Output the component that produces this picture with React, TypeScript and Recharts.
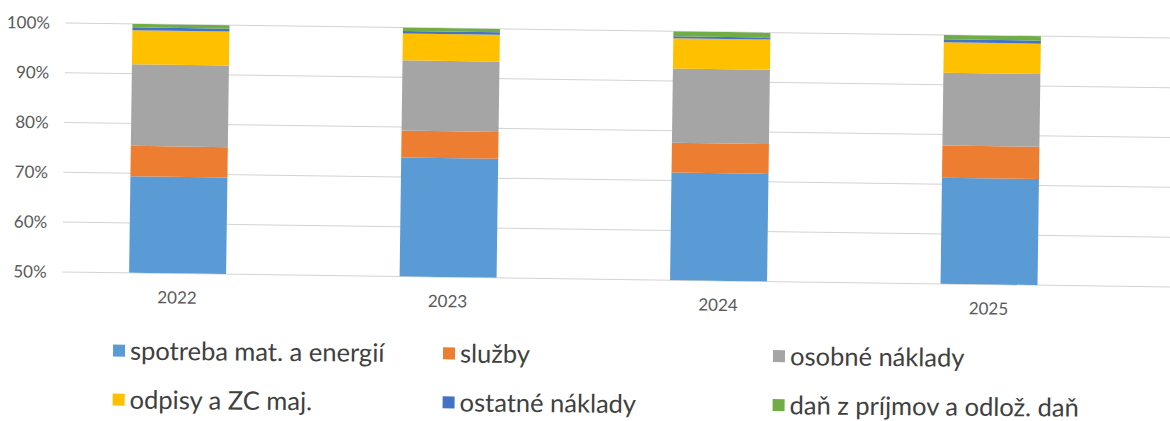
import React from 'react';
import { BarChart, Bar, XAxis, YAxis, CartesianGrid } from 'recharts';

const categories = ['2022', '2023', '2024', '2025'];

const spotreba = [69.4, 73.9, 71.6, 71.3];
const sluzby = [6.1, 5.4, 6.0, 6.5];
const osobne = [16.4, 14.1, 14.9, 14.6];
const odpisy = [6.8, 5.4, 6.1, 6.1];
const ostatne = [0.6, 0.5, 0.4, 0.6];
const dan = [0.7, 0.7, 1.0, 0.9];

const seriesKeys = ['spotreba', 'sluzby', 'osobne', 'odpisy', 'ostatne', 'dan'];
const seriesNames = [
  'spotreba mat. a energií',
  'služby',
  'osobné náklady',
  'odpisy a ZC maj.',
  'ostatné náklady',
  'daň z príjmov a odlož. daň',
];
const seriesColors = ['#5B9BD5', '#ED7D31', '#A5A5A5', '#FFC000', '#4472C4', '#70AD47'];
const seriesValues = [spotreba, sluzby, osobne, odpisy, ostatne, dan];

const yTicks = [50, 60, 70, 80, 90, 100];

const data = categories.map((year, i) => {
  const row: Record<string, string | number> = { year };
  seriesKeys.forEach((k, s) => {
    row[k] = seriesValues[s][i];
  });
  return row;
});

const FONT = 'Lato, "Open Sans", sans-serif';

export default function App() {
  return (
    <div
      style={{
        position: 'absolute',
        left: 0,
        top: 0,
        width: 1170,
        height: 421,
        overflow: 'hidden',
        background: '#ffffff',
      }}
    >
      <div
        style={{
          position: 'relative',
          width: 1200,
          height: 421,
          transform: 'rotate(0.78deg)',
          transformOrigin: '585px 210.5px',
        }}
      >
        <BarChart
          width={1200}
          height={421}
          data={data}
          margin={{ top: 30, right: 10, bottom: 112, left: 0 }}
        >
          <CartesianGrid vertical={false} stroke="#d3d3d3" />
          <XAxis
            dataKey="year"
            axisLine={false}
            tickLine={false}
            tickSize={0}
            tickMargin={18}
            height={30}
            padding={{ left: -20, right: 65 }}
            tick={{ fill: '#595959', fontSize: 17, fontFamily: FONT }}
          />
          <YAxis
            domain={[50, 100]}
            ticks={yTicks}
            allowDataOverflow
            width={63}
            axisLine={false}
            tickLine={false}
            tickSize={0}
            tickMargin={15.5}
            tickFormatter={(v: number) => `${v}%`}
            tick={{ fill: '#595959', fontSize: 17, fontFamily: FONT }}
          />
          {seriesKeys.map((k, s) => (
            <Bar
              key={k}
              dataKey={k}
              name={seriesNames[s]}
              stackId="a"
              fill={seriesColors[s]}
              barSize={97}
              isAnimationActive={false}
            />
          ))}
        </BarChart>
        <div
          style={{
            position: 'absolute',
            left: 115,
            top: 340,
            display: 'grid',
            gridTemplateColumns: '330px 330px 330px',
            rowGap: 18,
            fontFamily: FONT,
            fontSize: 25.5,
            color: '#404040',
            transform: 'rotate(-0.3deg)',
            transformOrigin: '0px 20px',
          }}
        >
          {seriesNames.map((n, s) => (
            <div key={n} style={{ display: 'flex', alignItems: 'center', height: 31, whiteSpace: 'nowrap' }}>
              <span
                style={{
                  display: 'inline-block',
                  width: 12,
                  height: 12,
                  background: seriesColors[s],
                  marginRight: 5,
                  marginTop: 3,
                }}
              />
              <span>{n}</span>
            </div>
          ))}
        </div>
      </div>
    </div>
  );
}
